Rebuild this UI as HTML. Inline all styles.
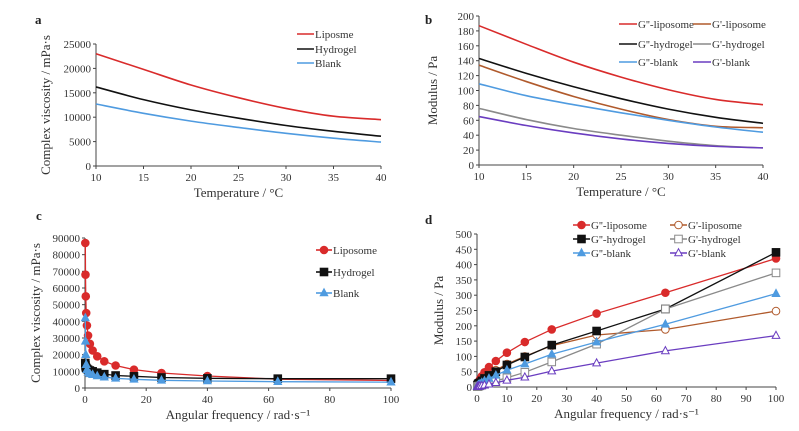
<!DOCTYPE html>
<html><head><meta charset="utf-8"><style>
body{margin:0;background:#fff;width:799px;height:426px;overflow:hidden}
svg{font-family:"Liberation Serif",serif}
</style></head><body>
<svg id="s" width="799" height="426"></svg>
<script>
// ---- data ----
const tempX=[10,15,20,25,30,35,40];
const aLipo=[23000,19800,16600,14000,11800,10200,9500];
const aHydro=[16200,13600,11500,9800,8300,7100,6100];
const aBlank=[12700,10800,9200,7900,6700,5700,4900];
const bGppLipo=[187,162,138,118,101,88,81];
const bGpLipo=[134,112,92,75,61,52,50];
const bGppHydro=[143,123,105,89,75,64,56];
const bGpHydro=[76,61,49,40,32,26,23];
const bGppBlank=[109,93,81,70,60,51,44];
const bGpBlank=[65,53,43,35,29,25,23];
const freq=[0.1,0.16,0.25,0.4,0.63,1,1.6,2.5,4,6.3,10,16,25,40,63,100];
const cLipo=[87000,68000,55000,45000,37500,31500,26500,22500,19000,16000,13500,11000,9000,7200,5300,4500];
const cHydro=[15000,13500,12500,12000,11500,11000,10500,10000,9200,8300,7500,7000,6300,5800,5600,5600];
const cBlank=[42000,28000,20000,14000,11000,9500,8500,8000,7200,6500,5800,5200,4600,4200,3800,3500];
const dGppLipo=[4,6,8,12,18,25,35,48,65,85,112,147,188,240,308,420];
const dGpLipo=[2,4,6,8,11,14,20,30,40,55,75,100,135,170,188,248];
const dGppHydro=[3,5,7,10,12,14,20,28,38,50,72,98,137,183,255,440];
const dGpHydro=[1,1,2,2,3,4,6,9,13,20,30,48,82,140,255,373];
const dGppBlank=[2,3,4,6,8,10,14,20,28,38,55,75,107,147,205,305];
const dGpBlank=[1,1,1,2,2,3,4,6,9,14,22,32,52,78,118,168];
const aTicksY=[0,5000,10000,15000,20000,25000];
const aTicksX=[10,15,20,25,30,35,40];
const bTicksY=[0,20,40,60,80,100,120,140,160,180,200];
const cTicksY=[0,10000,20000,30000,40000,50000,60000,70000,80000,90000];
const cTicksX=[0,20,40,60,80,100];
const dTicksY=[0,50,100,150,200,250,300,350,400,450,500];
const dTicksX=[0,10,20,30,40,50,60,70,80,90,100];

const S=document.getElementById('s');const NS='http://www.w3.org/2000/svg';
function el(t,a,p){const e=document.createElementNS(NS,t);for(const k in a)e.setAttribute(k,a[k]);(p||S).appendChild(e);return e;}
function txt(x,y,s,a,p){const e=el('text',Object.assign({x:x,y:y,'font-size':11,fill:'#333'},a||{}),p);e.textContent=s;return e;}
function smooth(pts){let d='M'+pts[0][0]+','+pts[0][1];for(let i=0;i<pts.length-1;i++){const p0=pts[i-1]||pts[i],p1=pts[i],p2=pts[i+1],p3=pts[i+2]||p2;
d+=' C'+(p1[0]+(p2[0]-p0[0])/6)+','+(p1[1]+(p2[1]-p0[1])/6)+' '+(p2[0]-(p3[0]-p1[0])/6)+','+(p2[1]-(p3[1]-p1[1])/6)+' '+p2[0]+','+p2[1];}return d;}
function panel(name,cfg){
 const g=el('g',{});
 const X=v=>cfg.x0+(v-cfg.xmin)/(cfg.xmax-cfg.xmin)*(cfg.x1-cfg.x0);
 const Y=v=>cfg.y0-(v-cfg.ymin)/(cfg.ymax-cfg.ymin)*(cfg.y0-cfg.y1);
 const ax=el('line',{x1:cfg.x0,y1:cfg.y0,x2:cfg.x1,y2:cfg.y0,stroke:'#444'},g);
 const ay=el('line',{x1:cfg.x0,y1:cfg.y0,x2:cfg.x0,y2:cfg.y1,stroke:'#444'},g);
 cfg.ty.forEach(v=>{el('line',{x1:cfg.x0-3,x2:cfg.x0,y1:Y(v),y2:Y(v),stroke:'#444'},g);const t=txt(cfg.x0-5,Y(v)+4,v,{'text-anchor':'end'},g);});
 cfg.tx.forEach(v=>{el('line',{x1:X(v),x2:X(v),y1:cfg.y0,y2:cfg.y0+3,stroke:'#444'},g);const t=txt(X(v),cfg.y0+15,v,{'text-anchor':'middle'},g);});
 const xt=txt((cfg.x0+cfg.x1)/2,cfg.y0+31,cfg.xl,{'text-anchor':'middle','font-size':13},g);
 const yt=txt(0,0,cfg.yl,{'text-anchor':'middle','font-size':13,transform:'translate('+cfg.ylx+','+(cfg.y0+cfg.y1)/2+') rotate(-90)'},g);
 const lt=txt(cfg.lab[0],cfg.lab[1],cfg.lab[2],{'font-size':13,'font-weight':'bold',fill:'#222'},g);
 cfg.series.forEach(s=>{
  const sg=el('g',{},g);
  const pts=cfg.xs.map((x,i)=>[X(x),Y(s.v[i])]);
  el('path',{d:cfg.smooth?smooth(pts):'M'+pts.map(p=>p.join(',')).join(' L'),fill:'none',stroke:s.c,'stroke-width':cfg.lw||1.6},sg);
  if(s.m) pts.forEach(p=>marker(sg,p[0],p[1],s.m,s.c,s.o));
  const lg=el('g',{},g);
  el('line',{x1:s.lx,x2:s.lx+cfg.ll,y1:s.ly,y2:s.ly,stroke:s.c,'stroke-width':1.6},lg);
  if(s.m) marker(lg,s.lx+cfg.ll/2,s.ly,s.m,s.c,s.o);
  txt(s.lx+cfg.ll+1,s.ly+4,s.label,{'font-size':11},lg);
 });
}
function marker(p,x,y,m,c,o){const f=o?'#fff':c;const r=3.8;
 if(m==='c'){const e=el('circle',{cx:x,cy:y,r:r,fill:f,stroke:c},p);}
 else if(m==='s'){const e=el('rect',{x:x-r,y:y-r,width:2*r,height:2*r,fill:f,stroke:c},p);}
 else {const e=el('polygon',{points:(x)+','+(y-r-0.5)+' '+(x-r)+','+(y+r-1)+' '+(x+r)+','+(y+r-1),fill:f,stroke:c},p);}
}
const R='#d92b2b',BR='#b05a2c',K='#111',GR='#8a8a8a',BL='#4f9be0',PU='#6a3dc0';
panel('panel-a',{x0:96,x1:381,y0:166,y1:44,xmin:10,xmax:40,ymin:0,ymax:25000,ty:aTicksY,tx:aTicksX,xs:tempX,smooth:true,
 xl:'Temperature  / °C',yl:'Complex viscosity  / mPa·s',ylx:50,lab:[35,24,'a'],ll:17,
 series:[{n:'liposome',v:aLipo,c:R,label:'Liposme',lx:297,ly:34},{n:'hydrogel',v:aHydro,c:K,label:'Hydrogel',lx:297,ly:49},{n:'blank',v:aBlank,c:BL,label:'Blank',lx:297,ly:63}]});
panel('panel-b',{x0:479,x1:763,y0:165,y1:16,xmin:10,xmax:40,ymin:0,ymax:200,ty:bTicksY,tx:aTicksX,xs:tempX,smooth:true,
 xl:'Temperature  / °C',yl:'Modulus / Pa',ylx:437,lab:[425,24,'b'],ll:18,
 series:[{n:'gpp-liposome',v:bGppLipo,c:R,label:'G\'\'-liposome',lx:619,ly:24},{n:'gp-liposome',v:bGpLipo,c:BR,label:'G\'-liposome',lx:693,ly:24},
 {n:'gpp-hydrogel',v:bGppHydro,c:K,label:'G\'\'-hydrogel',lx:619,ly:44},{n:'gp-hydrogel',v:bGpHydro,c:GR,label:'G\'-hydrogel',lx:693,ly:44},
 {n:'gpp-blank',v:bGppBlank,c:BL,label:'G\'\'-blank',lx:619,ly:62},{n:'gp-blank',v:bGpBlank,c:PU,label:'G\'-blank',lx:693,ly:62}]});
panel('panel-c',{x0:85,x1:391,y0:388,y1:238,xmin:0,xmax:100,ymin:0,ymax:90000,ty:cTicksY,tx:cTicksX,xs:freq,lw:1.3,
 xl:'Angular frequency  / rad·s⁻¹',yl:'Complex viscosity  / mPa·s',ylx:40,lab:[36,220,'c'],ll:16,
 series:[{n:'liposome',v:cLipo,c:R,m:'c',label:'Liposome',lx:316,ly:250},{n:'hydrogel',v:cHydro,c:K,m:'s',label:'Hydrogel',lx:316,ly:272},{n:'blank',v:cBlank,c:BL,m:'t',label:'Blank',lx:316,ly:293}]});
panel('panel-d',{x0:477,x1:776,y0:387,y1:234,xmin:0,xmax:100,ymin:0,ymax:500,ty:dTicksY,tx:dTicksX,xs:freq,lw:1.3,
 xl:'Angular frequency / rad·s⁻¹',yl:'Modulus / Pa',ylx:443,lab:[425,224,'d'],ll:17,
 series:[{n:'gpp-liposome',v:dGppLipo,c:R,m:'c',label:'G\'\'-liposome',lx:573,ly:225},{n:'gp-liposome',v:dGpLipo,c:BR,m:'c',o:1,label:'G\'-liposome',lx:670,ly:225},
 {n:'gpp-hydrogel',v:dGppHydro,c:K,m:'s',label:'G\'\'-hydrogel',lx:573,ly:239},{n:'gp-hydrogel',v:dGpHydro,c:GR,m:'s',o:1,label:'G\'-hydrogel',lx:670,ly:239},
 {n:'gpp-blank',v:dGppBlank,c:BL,m:'t',label:'G\'\'-blank',lx:573,ly:253},{n:'gp-blank',v:dGpBlank,c:PU,m:'t',o:1,label:'G\'-blank',lx:670,ly:253}]});
</script>
</body></html>
